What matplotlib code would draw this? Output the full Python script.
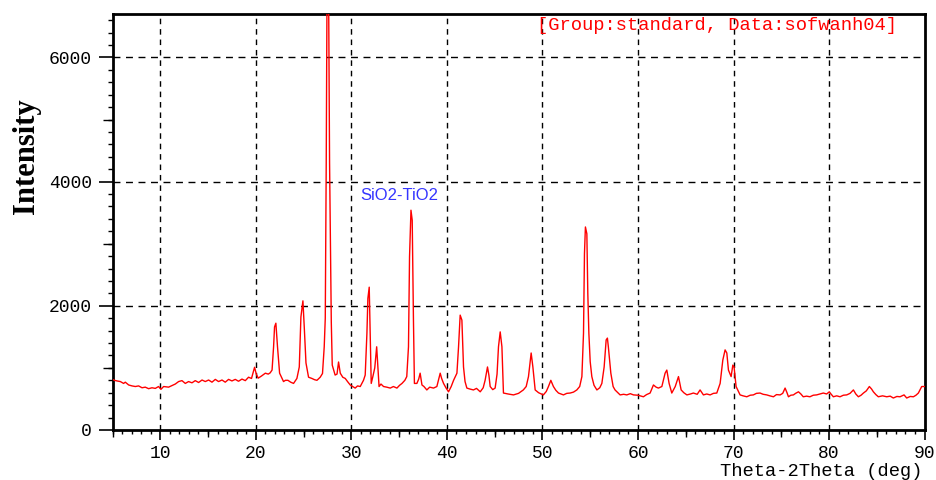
import matplotlib
matplotlib.use("Agg")
import matplotlib.pyplot as plt
from matplotlib.lines import TICKDOWN, TICKLEFT
from matplotlib.ticker import MultipleLocator

# XRD scan of the SiO2-TiO2 sample (2-theta in deg, counts)
two_theta = [
    5.00, 5.20, 5.47, 5.82, 6.16, 6.34, 6.69, 7.04, 7.39, 7.73,
    8.09, 8.43, 8.78, 9.13, 9.48, 9.82, 10.07, 10.35, 10.87, 11.22,
    11.57, 11.92, 12.27, 12.62, 12.96, 13.32, 13.66, 14.01, 14.37, 14.71,
    15.06, 15.41, 15.76, 16.10, 16.46, 16.80, 17.15, 17.50, 17.85, 18.19,
    18.55, 18.90, 19.24, 19.55, 19.87, 20.05, 20.25, 20.60, 21.00, 21.30,
    21.50, 21.70, 21.86, 21.96, 22.10, 22.27, 22.49, 22.90, 23.10, 23.36,
    23.65, 23.95, 24.30, 24.55, 24.72, 24.93, 25.07, 25.25, 25.52, 25.87,
    26.15, 26.40, 26.74, 26.98, 27.16, 27.27, 27.37, 27.47, 27.60, 27.72,
    27.90, 28.00, 28.30, 28.50, 28.66, 28.84, 29.10, 29.36, 29.60, 29.88,
    30.15, 30.40, 30.65, 30.93, 31.27, 31.45, 31.63, 31.73, 31.87, 31.97,
    32.08, 32.25, 32.45, 32.65, 32.78, 32.90, 33.10, 33.37, 33.70, 34.07,
    34.40, 34.77, 35.05, 35.30, 35.60, 35.80, 35.98, 36.09, 36.24, 36.37,
    36.50, 36.60, 36.86, 37.05, 37.20, 37.39, 37.60, 37.90, 38.20, 38.60,
    38.95, 39.15, 39.30, 39.45, 39.65, 39.90, 40.17, 40.45, 40.70, 41.05,
    41.22, 41.39, 41.57, 41.74, 41.90, 42.09, 42.40, 42.78, 43.10, 43.49,
    43.80, 44.00, 44.25, 44.40, 44.53, 44.80, 45.05, 45.25, 45.40, 45.58,
    45.76, 45.92, 46.40, 46.97, 47.50, 48.00, 48.30, 48.54, 48.82, 49.00,
    49.24, 49.60, 50.10, 50.40, 50.63, 50.88, 51.15, 51.40, 51.68, 52.20,
    52.55, 52.90, 53.25, 53.60, 53.90, 54.13, 54.30, 54.40, 54.50, 54.65,
    54.75, 54.86, 55.00, 55.17, 55.40, 55.70, 56.00, 56.22, 56.46, 56.67,
    56.80, 56.90, 57.16, 57.40, 57.60, 58.13, 58.50, 58.83, 59.20, 59.53,
    60.00, 60.57, 60.90, 61.27, 61.62, 61.90, 62.14, 62.50, 62.84, 63.02,
    63.26, 63.54, 63.90, 64.24, 64.52, 64.80, 65.12, 65.50, 65.80, 66.20,
    66.50, 66.85, 67.20, 67.55, 67.90, 68.25, 68.60, 68.88, 69.12, 69.30,
    69.47, 69.75, 69.93, 70.06, 70.27, 70.69, 71.00, 71.39, 71.75, 72.08,
    72.40, 72.78, 73.10, 73.48, 73.80, 74.18, 74.50, 74.88, 75.15, 75.40,
    75.60, 75.75, 76.00, 76.27, 76.50, 76.80, 77.05, 77.30, 77.65, 78.00,
    78.35, 78.70, 79.05, 79.40, 79.75, 80.03, 80.20, 80.45, 80.80, 81.15,
    81.50, 81.85, 82.20, 82.55, 82.80, 83.07, 83.35, 83.60, 83.90, 84.22,
    84.45, 84.64, 84.90, 85.16, 85.60, 86.04, 86.40, 86.73, 87.10, 87.43,
    87.85, 88.13, 88.50, 88.83, 89.10, 89.35, 89.70, 90.00,
]
intensity = [
    815, 800, 790, 780, 750, 770, 725, 710, 700, 710,
    680, 690, 665, 680, 670, 700, 655, 700, 690, 715,
    740, 780, 795, 750, 780, 760, 795, 765, 805, 780,
    805, 770, 815, 780, 805, 770, 815, 790, 815, 785,
    820, 795, 850, 830, 1010, 900, 835, 870, 915, 900,
    920, 965, 1340, 1660, 1720, 1340, 915, 780, 800, 800,
    770, 750, 830, 1015, 1820, 2080, 1660, 1080, 850, 830,
    810, 800, 850, 910, 1340, 1800, 4300, 7600, 7600, 4300,
    1740, 1045, 885, 900, 1095, 915, 850, 830, 780, 725,
    700, 675, 710, 700, 800, 885, 1560, 2120, 2300, 1560,
    750, 860, 1000, 1340, 1015, 700, 740, 700, 690, 675,
    700, 675, 720, 750, 800, 860, 1340, 2790, 3540, 3380,
    1770, 750, 750, 820, 915, 725, 700, 645, 690, 675,
    700, 820, 915, 830, 750, 680, 615, 700, 800, 915,
    1340, 1850, 1770, 1015, 780, 675, 660, 645, 670, 615,
    680, 800, 1015, 880, 700, 650, 675, 900, 1340, 1580,
    1340, 595, 580, 565, 590, 645, 700, 860, 1240, 1015,
    645, 600, 565, 620, 700, 800, 700, 640, 595, 565,
    590, 595, 610, 645, 700, 860, 1560, 2840, 3270, 3160,
    2200, 1560, 1100, 860, 720, 645, 680, 750, 1015, 1450,
    1480, 1340, 915, 700, 645, 565, 575, 565, 585, 565,
    560, 535, 570, 595, 725, 690, 675, 700, 915, 965,
    750, 595, 700, 860, 645, 600, 565, 580, 595, 575,
    645, 565, 580, 565, 590, 595, 750, 1125, 1290, 1240,
    965, 860, 1045, 1015, 700, 565, 550, 535, 560, 565,
    590, 595, 575, 565, 550, 535, 570, 565, 590, 675,
    600, 535, 560, 565, 590, 615, 580, 535, 545, 535,
    560, 565, 580, 595, 580, 615, 580, 535, 550, 535,
    560, 565, 590, 645, 580, 535, 560, 595, 630, 700,
    660, 615, 570, 535, 550, 535, 545, 515, 540, 535,
    565, 515, 540, 535, 560, 595, 700, 700,
]

x_major = [10, 20, 30, 40, 50, 60, 70, 80, 90]
x_mid = [5, 15, 25, 35, 45, 55, 65, 75, 85]
y_major = [0, 2000, 4000, 6000]
y_mid = [1000, 3000, 5000]

mono = "Liberation Mono"

fig = plt.figure(figsize=(9.36, 4.8), dpi=100)
ax = fig.add_axes([0.1202, 0.1042, 0.8676, 0.8666])

ax.plot(two_theta, intensity, color="#ff0000", lw=1.0, zorder=3)

ax.set_xlim(5, 90)
ax.set_ylim(0, 6700)

# dashed grid only on the main divisions
for xv in x_major[:-1]:
    ax.axvline(xv, color="black", lw=1.0, ls=(0, (4, 3.5)), zorder=1)
for yv in y_major[1:]:
    ax.axhline(yv, color="black", lw=1.0, ls=(0, (5, 4)), zorder=1)

ax.set_xticks(x_major)
ax.set_yticks(y_major)
ax.xaxis.set_minor_locator(MultipleLocator(1))
ax.yaxis.set_minor_locator(MultipleLocator(200))
ax.tick_params(axis="x", which="major", direction="out", length=7.5, width=1.2, pad=3)
ax.tick_params(axis="x", which="minor", direction="out", length=2.8, width=1.0)
ax.tick_params(axis="y", which="major", direction="out", length=10, width=1.2, pad=5)
ax.tick_params(axis="y", which="minor", direction="out", length=3.8, width=1.0)
for lab in ax.get_xticklabels() + ax.get_yticklabels():
    lab.set_fontfamily(mono)
    lab.set_fontsize(13)

# medium-length ticks at the half divisions
ax.plot(x_mid, [0] * len(x_mid), ls="none", marker=TICKDOWN, markersize=5,
        markeredgewidth=1.0, color="black", clip_on=False, zorder=4)
ax.plot([5] * len(y_mid), y_mid, ls="none", marker=TICKLEFT, markersize=7,
        markeredgewidth=1.0, color="black", clip_on=False, zorder=4)

for s in ax.spines.values():
    s.set_linewidth(2.0)

ax.text(30.93, 3780, "SiO2-TiO2", color="#3535ff", fontsize=12,
        family="Liberation Sans", ha="left", va="center")

fig.text(0.0285, 0.675, "Intensity", rotation=90, fontsize=22,
         family="Liberation Serif", fontweight="bold", ha="center", va="center")
fig.text(0.986, 1 - 472 / 480, "Theta-2Theta (deg)", fontsize=13.5,
         family=mono, ha="right", va="center")
fig.text(537 / 936, 1 - 25 / 480, "[Group:standard, Data:sofwanh04]",
         fontsize=13.5, family=mono, color="#ff0000", ha="left", va="center")

fig.savefig("out.png", dpi=100)
